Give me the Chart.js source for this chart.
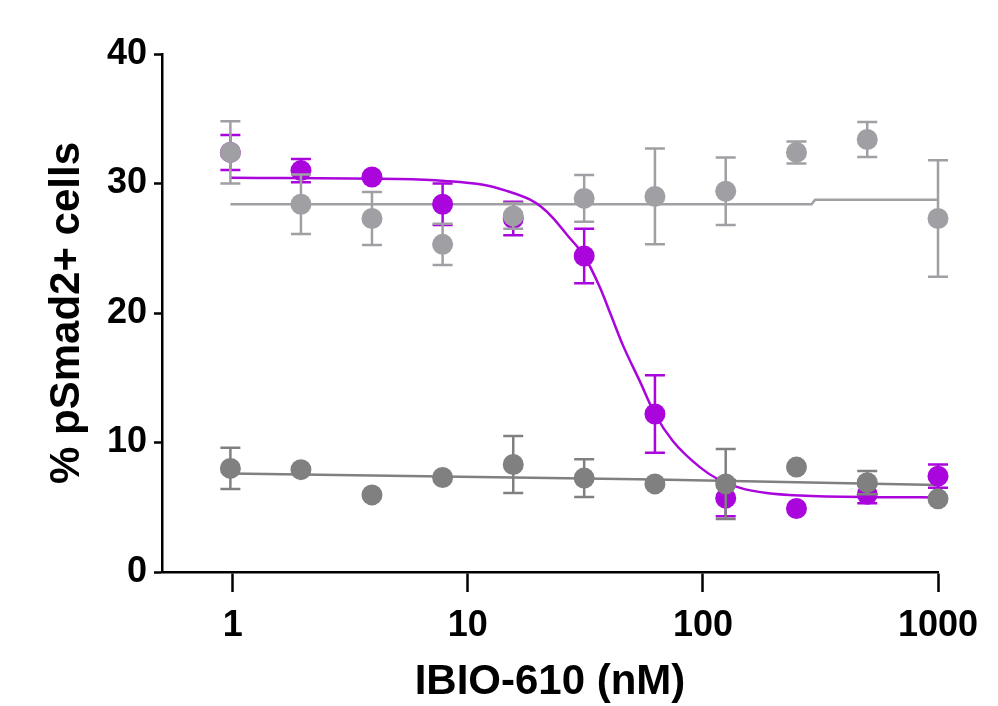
<!DOCTYPE html>
<html>
<head>
<meta charset="utf-8">
<script src="https://cdn.jsdelivr.net/npm/chart.js@4.4.1/dist/chart.umd.min.js"></script>
<style>
  html, body { margin: 0; padding: 0; background: #fff; }
  #wrap { width: 998px; height: 706px; }
</style>
</head>
<body>
<div id="wrap"><canvas id="chart" width="998" height="706"></canvas></div>
<script>
// dose series (2-fold dilutions, nM)
const doses = [0.977, 1.95, 3.91, 7.81, 15.6, 31.25, 62.5, 125, 250, 500, 1000];

// purple: responding group
const purpleMean = [32.4, 31.0, 30.5, 28.4, 27.3, 24.4, 12.2, 5.7, 4.9, 6.0, 7.4];
const purpleErr  = [1.35, 0.9, 0, 1.6, 1.3, 2.1, 3.0, 1.4, 0, 0.7, 0.9];

// light gray: no response
const lightMean = [32.4, 28.4, 27.3, 25.3, 27.5, 28.85, 29.0, 29.4, 32.4, 33.4, 27.3];
const lightErr  = [2.4, 2.3, 2.05, 1.6, 1.0, 1.8, 3.7, 2.6, 0.85, 1.35, 4.5];

// dark gray: baseline
const darkMean = [8.0, 7.9, 5.95, 7.3, 8.3, 7.25, 6.8, 6.8, 8.1, 6.9, 5.65];
const darkErr  = [1.6, 0, 0, 0, 2.2, 1.45, 0, 2.7, 0, 0.9, 0];

// fitted curves
const purpleFitX = [0.977, 5.1, 8, 11.6, 14.5, 18.4, 20.5, 23, 26.5, 31.25, 36.4, 40.5, 45.7, 54, 62.5, 74.6, 97, 115, 144, 187, 259, 515, 1000];
const purpleFitY = [30.45, 30.35, 30.2, 29.9, 29.45, 28.75, 28.2, 27.35, 26.0, 24.4, 22.0, 19.9, 17.5, 14.7, 12.2, 10.1, 8.1, 7.2, 6.5, 6.1, 5.9, 5.78, 5.76];
const lightFitX = [0.977, 290, 300, 1000];
const lightFitY = [28.4, 28.4, 28.75, 28.75];
const darkFitX = [0.977, 62.5, 1000];
const darkFitY = [7.6, 7.15, 6.72];

const xTicks = [1, 10, 100, 1000];
const yTicks = [0, 10, 20, 30, 40];

const COLORS = {
  purple: "#a905dc",
  light: "#a0a0a4",
  dark: "#808080",
  axis: "#000000",
};

const FONT = "'Liberation Sans', Arial, Helvetica, sans-serif";

const toPoints = (xs, ys) => xs.map((x, i) => ({ x, y: ys[i] }));

// SEM bars drawn under each dataset's markers
const errorBars = {
  id: "errorBars",
  beforeDatasetDraw(chart, args) {
    const ds = chart.data.datasets[args.index];
    if (!ds.errors) return;
    const xs = chart.scales.x;
    const ys = chart.scales.y;
    const ctx = chart.ctx;
    ctx.save();
    ctx.strokeStyle = ds.backgroundColor;
    ctx.lineWidth = 2.5;
    ds.data.forEach((p, i) => {
      const e = ds.errors[i];
      if (!e) return;
      const px = xs.getPixelForValue(p.x);
      const top = ys.getPixelForValue(p.y + e);
      const bot = ys.getPixelForValue(p.y - e);
      ctx.beginPath();
      ctx.moveTo(px, top);
      ctx.lineTo(px, bot);
      ctx.moveTo(px - 10, top);
      ctx.lineTo(px + 10, top);
      ctx.moveTo(px - 10, bot);
      ctx.lineTo(px + 10, bot);
      ctx.stroke();
    });
    ctx.restore();
  },
};

const pointSet = (data, errors, color, order) => ({
  type: "scatter",
  data,
  errors,
  backgroundColor: color,
  borderColor: color,
  borderWidth: 0,
  pointRadius: 10.5,
  showLine: false,
  clip: false,
  order,
});

const fitSet = (data, color, order, smooth) => ({
  type: "line",
  data,
  borderColor: color,
  borderWidth: 2.5,
  pointRadius: 0,
  fill: false,
  cubicInterpolationMode: smooth ? "monotone" : "default",
  tension: 0,
  clip: false,
  order,
});

new Chart(document.getElementById("chart"), {
  type: "scatter",
  data: {
    datasets: [
      pointSet(toPoints(doses, lightMean), lightErr, COLORS.light, 0),
      pointSet(toPoints(doses, darkMean), darkErr, COLORS.dark, 1),
      pointSet(toPoints(doses, purpleMean), purpleErr, COLORS.purple, 2),
      fitSet(toPoints(purpleFitX, purpleFitY), COLORS.purple, 3, true),
      fitSet(toPoints(darkFitX, darkFitY), COLORS.dark, 4, false),
      fitSet(toPoints(lightFitX, lightFitY), COLORS.light, 5, false),
    ],
  },
  options: {
    responsive: false,
    animation: false,
    layout: { padding: { top: 54, right: 60, left: 0, bottom: 0 } },
    plugins: {
      legend: { display: false },
      tooltip: { enabled: false },
    },
    scales: {
      x: {
        type: "logarithmic",
        min: 0.5,
        max: 1000,
        afterBuildTicks: (scale) => {
          scale.ticks = xTicks.map((v) => ({ value: v }));
        },
        afterFit: (scale) => { scale.height = 134; },
        ticks: {
          autoSkip: false,
          maxRotation: 0,
          padding: 12,
          color: COLORS.axis,
          font: { family: FONT, size: 36, weight: "bold", lineHeight: 1.2 },
          callback: (v) => String(v),
        },
        grid: {
          drawOnChartArea: false,
          drawTicks: true,
          tickLength: 20,
          tickWidth: 2.5,
          tickColor: COLORS.axis,
        },
        border: { display: true, color: COLORS.axis, width: 2.5 },
        title: {
          display: true,
          text: "IBIO-610 (nM)",
          color: COLORS.axis,
          font: { family: FONT, size: 42, weight: "bold", lineHeight: 1 },
          padding: { top: 0, bottom: 2.5 },
        },
      },
      y: {
        min: 0,
        max: 40,
        afterBuildTicks: (scale) => {
          scale.ticks = yTicks.map((v) => ({ value: v }));
        },
        afterFit: (scale) => { scale.width = 162; },
        ticks: {
          padding: 7,
          color: COLORS.axis,
          font: { family: FONT, size: 36, weight: "bold", lineHeight: 1.2 },
          callback: (v) => String(v),
        },
        grid: {
          drawOnChartArea: false,
          drawTicks: true,
          tickLength: 8,
          tickWidth: 2.5,
          tickColor: COLORS.axis,
        },
        border: { display: true, color: COLORS.axis, width: 2.5 },
        title: {
          display: true,
          text: "% pSmad2+ cells",
          color: COLORS.axis,
          font: { family: FONT, size: 42, weight: "bold", lineHeight: 1 },
          padding: { top: 46.5, bottom: 0 },
        },
      },
    },
  },
  plugins: [errorBars],
});
</script>
</body>
</html>
